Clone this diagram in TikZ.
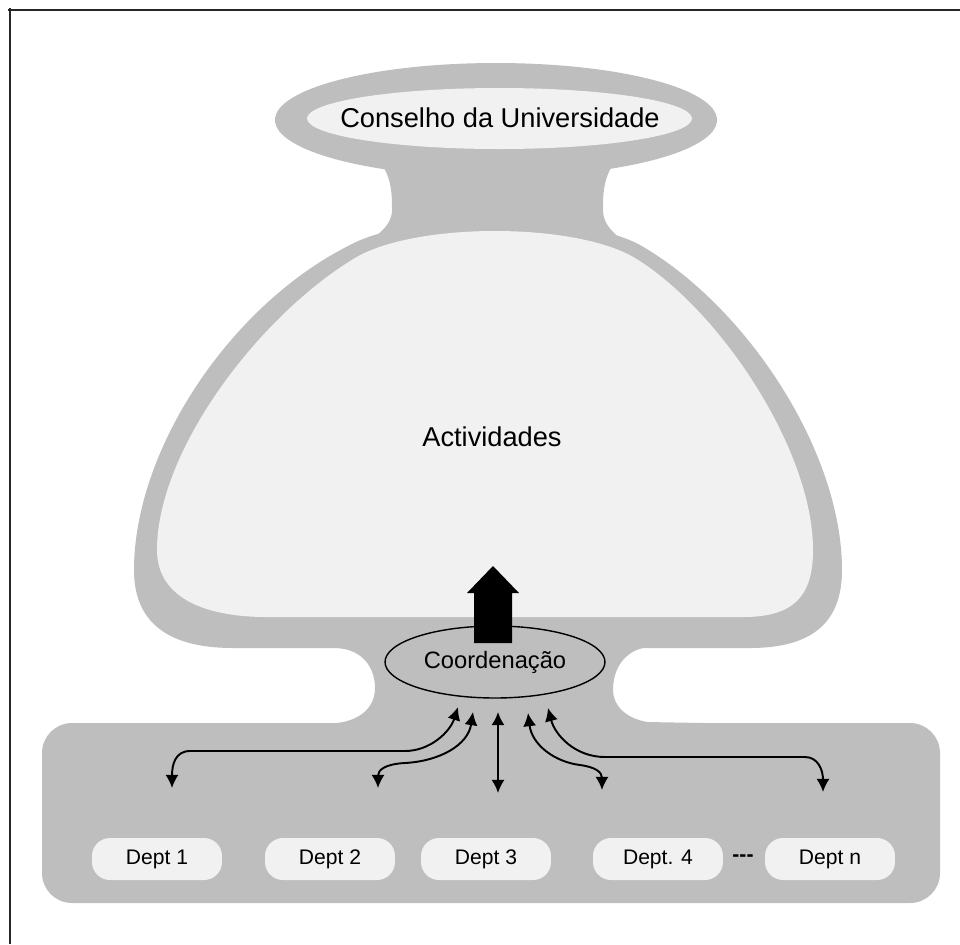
\documentclass[tikz,border=0pt]{standalone}
\usepackage{fontspec}
\setmainfont{Liberation Sans}
\usetikzlibrary{arrows.meta,shapes.geometric}
\definecolor{bandgray}{RGB}{190,190,190}
\definecolor{paleface}{RGB}{241,241,241}
\begin{document}
\begin{tikzpicture}[x=0.02cm,y=-0.02cm,
  link/.style={line width=1.1pt,
    {Latex[length=7.5pt,width=7.5pt]}-{Latex[length=7.5pt,width=7.5pt]}},
  deptbox/.style={fill=paleface, rounded corners=0.36cm,
    minimum width=2.6cm, minimum height=0.84cm, inner sep=0pt,
    font=\fontsize{12}{14}\selectfont},
  label/.style={inner sep=0pt, font=\fontsize{15.5}{18}\selectfont}]
\useasboundingbox (0,0) rectangle (960,944);

% grey body: council head, upper neck, dome, lower neck, department band
\fill[bandgray] (496,120) ellipse [x radius=221, y radius=57];
\fill[bandgray] (378,160) .. controls (392,175) and (392,195) .. (392,210)
  .. controls (392,228) and (372,242) .. (335,258) -- (655,258)
  .. controls (620,242) and (603,228) .. (603,210)
  .. controls (603,195) and (603,175) .. (617,160) -- cycle;
\fill[bandgray] (233,648) -- (750,648)
  .. controls (815,648) and (842,620) .. (842,570)
  .. controls (842,450) and (745,305) .. (640,245)
  .. controls (580,212) and (410,212) .. (350,245)
  .. controls (230,305) and (134,450) .. (134,570)
  .. controls (134,620) and (165,648) .. (233,648) -- cycle;
\fill[bandgray] (320,640) -- (337,648)
  .. controls (365,650) and (375,670) .. (375,688)
  .. controls (375,706) and (362,720) .. (337,723) -- (320,730) -- (670,730)
  -- (703,723) -- (647,722)
  .. controls (625,718) and (613,705) .. (613,690)
  .. controls (613,668) and (625,652) .. (643,648) -- (660,640) -- cycle;
\fill[bandgray, rounded corners=0.6cm] (42,723) rectangle (940,903);

% pale interiors
\fill[paleface] (499.5,118.5) ellipse [x radius=192.5, y radius=30.5];
\fill[paleface] (267,617) -- (743,617)
  .. controls (795,617) and (813,595) .. (813,550)
  .. controls (813,450) and (720,310) .. (635,258)
  .. controls (575,222) and (415,222) .. (355,258)
  .. controls (260,315) and (157,450) .. (157,550)
  .. controls (157,595) and (200,617) .. (267,617) -- cycle;

% labels
\node[label] (conselho) at (500,118) {Conselho da Universidade};
\node[label] (activ) at (492,437) {Actividades};

% coordination hub
\node[draw, ellipse, line width=0.8pt, minimum width=4.4cm, minimum height=1.44cm,
  inner sep=0pt, font=\fontsize{13.5}{16}\selectfont] (coord) at (495,662) {Coordenação};

% thick upward arrow into the activities
\fill[black] (474,643) -- (474,593) -- (467,593) -- (493,566) -- (519,593)
  -- (512,593) -- (512,643) -- cycle;

% departments
\node[deptbox] (d1) at (157,859) {Dept 1};
\node[deptbox] (d2) at (330,859) {Dept 2};
\node[deptbox] (d3) at (486,859) {Dept 3};
\node[deptbox] (d4) at (658,859) {Dept. 4};
\node[deptbox] (dn) at (830,859) {Dept n};
\node[inner sep=0pt, font=\bfseries\fontsize{12}{14}\selectfont] (dots) at (743,858) {-{}-{}-};

% arrow ends around the hub
\coordinate (u1) at (458,707);
\coordinate (u2) at (473,712);
\coordinate (u3) at (498,712);
\coordinate (u4) at (528,713);
\coordinate (u5) at (548,708);
\coordinate (l1) at (172,788);
\coordinate (l2) at (378,788);
\coordinate (l3) at (498,793);
\coordinate (l4) at (602,790);
\coordinate (l5) at (823,792);

\draw[link] (l1) .. controls (172,765) and (175,751) .. (190,751) -- (405,751)
  .. controls (430,751) and (450,732) .. (u1);
\draw[link] (l2) .. controls (378,770) and (385,764) .. (405,763)
  .. controls (440,761) and (468,745) .. (u2);
\draw[link] (l3) -- (u3);
\draw[link] (u4) .. controls (532,745) and (555,762) .. (580,765)
  .. controls (595,767) and (602,772) .. (l4);
\draw[link] (u5) .. controls (555,735) and (575,757) .. (605,757) -- (805,757)
  .. controls (818,757) and (823,770) .. (l5);

% frame rules along the top and left
\draw[line width=1.7pt, black!85] (8,10) -- (960,10);
\draw[line width=1.7pt, black!85] (10,8) -- (10,944);
\end{tikzpicture}
\end{document}
